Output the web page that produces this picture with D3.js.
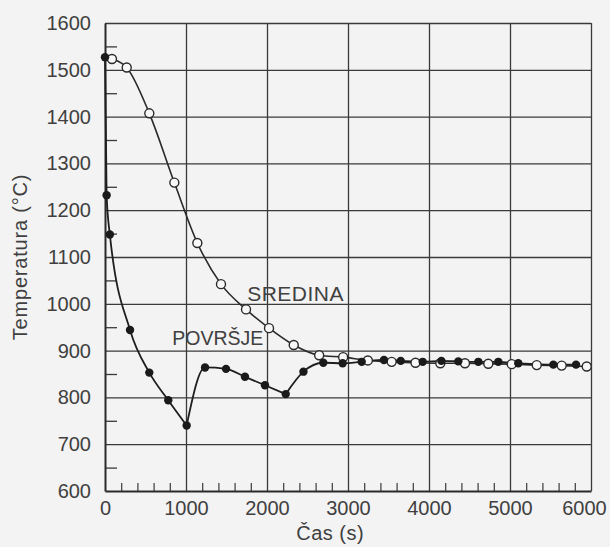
<!DOCTYPE html>
<html>
<head>
<meta charset="utf-8">
<script src="https://cdn.jsdelivr.net/npm/d3@7"></script>
<style>
  body { margin: 0; background: #f3f3f3; }
  text { font-family: "Liberation Sans", Arial, sans-serif; fill: #404040; }
</style>
</head>
<body>
<div class="chart"></div>
<script>
// DATA -----------------------------------

// time (s) and temperature (°C)
var sredinaTime = [0, 86, 268, 547, 856, 1140, 1432, 1741, 2025, 2330, 2644, 2940, 3245, 3539, 3833, 4140, 4444, 4732, 5021, 5330, 5638, 5947];
var sredinaTemp = [1527, 1523, 1505, 1407, 1259, 1130, 1042, 988, 948, 912, 890, 886, 879, 876, 874, 873, 873, 872, 871, 869, 868, 866];

var povrsjeTime = [0, 20, 60, 309, 547, 781, 1008, 1235, 1494, 1728, 1975, 2231, 2450, 2695, 2934, 3169, 3444, 3651, 3922, 4153, 4362, 4609, 4856, 5102, 5535, 5815];
var povrsjeTemp = [1527, 1232, 1148, 944, 853, 794, 740, 864, 861, 844, 826, 807, 855, 874, 873, 876, 880, 878, 876, 878, 877, 876, 876, 873, 870, 870];

var xTicks = [0, 1000, 2000, 3000, 4000, 5000, 6000];
var yTicks = [600, 700, 800, 900, 1000, 1100, 1200, 1300, 1400, 1500, 1600];

// SET UP SVG -----------------------------------

var svgWidth = 610;
var svgHeight = 547;

var margin = { top: 23, right: 19, bottom: 56, left: 105 };

var chartWidth = svgWidth - margin.left - margin.right;
var chartHeight = svgHeight - margin.top - margin.bottom;

var svg = d3.select(".chart")
  .append("svg")
  .attr("width", svgWidth)
  .attr("height", svgHeight);

svg.append("rect")
  .attr("width", svgWidth)
  .attr("height", svgHeight)
  .attr("fill", "#f3f3f3");

var chartGroup = svg.append("g")
  .attr("transform", `translate(${margin.left}, ${margin.top})`);

// scales
var xScale = d3.scaleLinear().domain([0, 6000]).range([0, chartWidth]);
var yScale = d3.scaleLinear().domain([600, 1600]).range([chartHeight, 0]);

// GRID -----------------------------------

chartGroup.append("g")
  .attr("class", "y-grid")
  .call(d3.axisLeft(yScale).tickValues(yTicks.slice(1)).tickSize(-chartWidth).tickFormat(""))
  .call(g => g.select(".domain").remove())
  .selectAll("line")
  .attr("stroke", "#3a3a3a")
  .attr("stroke-width", 1.3);

chartGroup.append("g")
  .attr("class", "x-grid")
  .attr("transform", `translate(0, ${chartHeight})`)
  .call(d3.axisBottom(xScale).tickValues(xTicks.slice(1)).tickSize(-chartHeight).tickFormat(""))
  .call(g => g.select(".domain").remove())
  .selectAll("line")
  .attr("stroke", "#3a3a3a")
  .attr("stroke-width", 1.3);

// minor ticks (inward)
chartGroup.append("g")
  .call(d3.axisRight(yScale).tickValues(d3.range(650, 1600, 100)).tickSize(12).tickFormat(""))
  .call(g => g.select(".domain").remove())
  .selectAll("line")
  .attr("stroke", "#3a3a3a")
  .attr("stroke-width", 1.3);

chartGroup.append("g")
  .attr("transform", `translate(0, ${chartHeight})`)
  .call(d3.axisTop(xScale).tickValues(d3.range(200, 6000, 200).filter(d => d % 1000 !== 0)).tickSize(8).tickFormat(""))
  .call(g => g.select(".domain").remove())
  .selectAll("line")
  .attr("stroke", "#3a3a3a")
  .attr("stroke-width", 1.2);

// AXES -----------------------------------

var leftAxis = chartGroup.append("g")
  .call(d3.axisLeft(yScale).tickValues(yTicks).tickSize(0).tickPadding(14).tickFormat(d3.format("d")));
leftAxis.select(".domain").attr("stroke", "#2a2a2a").attr("stroke-width", 2);
leftAxis.selectAll("text")
  .style("font-size", "20px")
  .style("font-family", "Liberation Sans, Arial, sans-serif")
  .attr("fill", "#404040");

var bottomAxis = chartGroup.append("g")
  .attr("transform", `translate(0, ${chartHeight})`)
  .call(d3.axisBottom(xScale).tickValues(xTicks).tickSize(0).tickPadding(10).tickFormat(d3.format("d")));
bottomAxis.select(".domain").attr("stroke", "#2a2a2a").attr("stroke-width", 2);
bottomAxis.selectAll("text")
  .style("font-size", "20px")
  .style("font-family", "Liberation Sans, Arial, sans-serif")
  .attr("fill", "#404040")
  .attr("dx", d => d === 6000 ? -7 : 0);   // keep last label inside the page

// axis titles
chartGroup.append("text")
  .attr("transform", "rotate(-90)")
  .attr("x", -yScale(1100))
  .attr("y", 27 - margin.left)
  .attr("text-anchor", "middle")
  .style("font-size", "20px")
  .style("letter-spacing", "0.8px")
  .text("Temperatura (°C)");

chartGroup.append("text")
  .attr("x", xScale(2780))
  .attr("y", chartHeight + 49)
  .attr("text-anchor", "middle")
  .style("font-size", "20px")
  .style("letter-spacing", "0.5px")
  .text("Čas (s)");

// LINES -----------------------------------

var sredina = sredinaTime.map((t, i) => ({ t: t, T: sredinaTemp[i] }));
var povrsje = povrsjeTime.map((t, i) => ({ t: t, T: povrsjeTemp[i] }));

var line = d3.line()
  .x(d => xScale(d.t))
  .y(d => yScale(d.T))
  .curve(d3.curveMonotoneX);

chartGroup.append("path")
  .datum(sredina)
  .attr("d", line)
  .attr("fill", "none")
  .attr("stroke", "#2a2a2a")
  .attr("stroke-width", 1.6);

// surface curve has sharp corners at its two minima, so draw it in pieces
var breaks = [0, povrsjeTime.indexOf(1008), povrsjeTime.indexOf(2231), povrsje.length - 1];
for (var b = 0; b < breaks.length - 1; b++) {
  chartGroup.append("path")
    .datum(povrsje.slice(breaks[b], breaks[b + 1] + 1))
    .attr("d", line)
    .attr("fill", "none")
    .attr("stroke", "#1e1e1e")
    .attr("stroke-width", 1.8);
}

// open circles (centre)
chartGroup.selectAll(".open")
  .data(sredina.slice(1))
  .enter()
  .append("circle")
  .attr("class", "open")
  .attr("cx", d => xScale(d.t))
  .attr("cy", d => yScale(d.T))
  .attr("r", 4.5)
  .attr("fill", "#f8f8f8")
  .attr("stroke", "#2a2a2a")
  .attr("stroke-width", 1.4);

// filled dots (surface)
chartGroup.selectAll(".filled")
  .data(povrsje)
  .enter()
  .append("circle")
  .attr("class", "filled")
  .attr("cx", d => xScale(d.t))
  .attr("cy", d => yScale(d.T))
  .attr("r", 4.2)
  .attr("fill", "#1a1a1a");

// series labels
chartGroup.append("text")
  .attr("x", xScale(1755))
  .attr("y", yScale(1006))
  .style("font-size", "21px")
  .style("letter-spacing", "0.5px")
  .text("SREDINA");

chartGroup.append("text")
  .attr("x", xScale(830))
  .attr("y", yScale(912))
  .style("font-size", "19.5px")
  .text("POVRŠJE");
</script>
</body>
</html>
